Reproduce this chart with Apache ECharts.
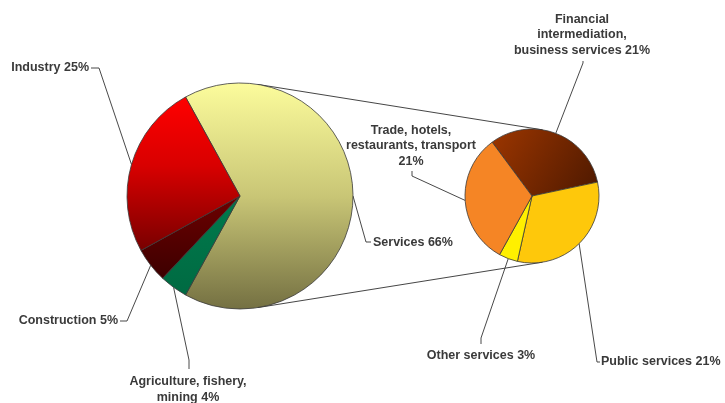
<!DOCTYPE html>
<html>
<head>
<meta charset="utf-8">
<script src="https://cdn.jsdelivr.net/npm/echarts@6/dist/echarts.min.js"></script>
<style>html,body{margin:0;padding:0;background:#fff}#c{width:725px;height:403px}</style>
</head>
<body>
<div id="c"></div>
<script>
// ---- data ----
var mainNames = ['Services', 'Agriculture, fishery,\nmining', 'Construction', 'Industry'];
var mainValues = [66, 4, 5, 25];
var subNames = ['Financial\nintermediation,\nbusiness services', 'Public services', 'Other services', 'Trade, hotels,\nrestaurants, transport'];
var subValues = [21, 21, 3, 21];
var subSep = [' ', ' ', ' ', '\n'];

// ---- layout ----
var C1 = [240, 196], R1 = 113;
var C2 = [532, 196], R2 = 67;
var textColor = '#3a3a3a';
var edge = '#3a3a3a';

var mainColors = [
  {type:'linear',x:0,y:0,x2:0,y2:1,colorStops:[{offset:0,color:'#fcfc9c'},{offset:0.5,color:'#c9c676'},{offset:1,color:'#747042'}]},
  {type:'linear',x:0,y:0,x2:0,y2:1,colorStops:[{offset:0,color:'#007a4c'},{offset:1,color:'#006a42'}]},
  {type:'linear',x:0,y:0,x2:0,y2:1,colorStops:[{offset:0,color:'#6e0000'},{offset:1,color:'#3c0000'}]},
  {type:'linear',x:0,y:0,x2:0,y2:1,colorStops:[{offset:0,color:'#ff0000'},{offset:0.45,color:'#d80000'},{offset:1,color:'#780000'}]}
];
var subColors = [
  {type:'linear',x:0,y:0,x2:1,y2:1,colorStops:[{offset:0,color:'#9c3600'},{offset:1,color:'#4c1800'}]},
  '#fec80b',
  '#fff000',
  '#f58525'
];

// label anchors: [x, y, align, verticalAlign, elbowX, elbowY, endX, endY]
var mainLabelPos = [
  [373, 243, 'left', 'middle', 366, 242, 371, 242],
  [188, 374, 'center', 'top', 189, 360, 189, 369],
  [118, 321, 'right', 'middle', 127, 321, 120, 321],
  [89, 68, 'right', 'middle', 99, 68, 91, 68]
];
var subLabelPos = [
  [582, 58, 'center', 'bottom', 583, 63, 583, 61],
  [601, 362, 'left', 'middle', 597, 362, 600, 362],
  [481, 348, 'center', 'top', 481, 338, 481, 344],
  [411, 169, 'center', 'bottom', 412, 176, 412, 171]
];

function mkLayout(pos) {
  return function (p) {
    var a = pos[p.dataIndex];
    var start = p.labelLinePoints ? p.labelLinePoints[0] : [a[4], a[5]];
    return {
      x: a[0], y: a[1], align: a[2], verticalAlign: a[3],
      labelLinePoints: [start, [a[4], a[5]], [a[6], a[7]]]
    };
  };
}

var labelStyle = {
  show: true, position: 'outside', color: textColor, fontSize: 12.5, fontWeight: 'bold',
  fontFamily: 'Liberation Sans, Arial, sans-serif', lineHeight: 15.5
};

// tangent connector lines (external tangents of the two circles)
var d = C2[0] - C1[0];
var phi = Math.acos((R1 - R2) / d);
function tp(c, r, s) { return [c[0] + r * Math.cos(phi), c[1] - s * r * Math.sin(phi)]; }
var top1 = tp(C1, R1, 1), top2 = tp(C2, R2, 1), bot1 = tp(C1, R1, -1), bot2 = tp(C2, R2, -1);

var chart = echarts.init(document.getElementById('c'), null, {renderer: 'canvas'});
chart.setOption({
  animation: false,
  backgroundColor: '#ffffff',
  graphic: [
    {type:'line', z: -1, shape:{x1:top1[0],y1:top1[1],x2:top2[0],y2:top2[1]}, style:{stroke:'#303030',lineWidth:0.9}},
    {type:'line', z: -1, shape:{x1:bot1[0],y1:bot1[1],x2:bot2[0],y2:bot2[1]}, style:{stroke:'#303030',lineWidth:0.9}}
  ],
  series: [
    {
      type: 'pie', center: C1, radius: R1, clockwise: true,
      startAngle: mainValues[0] * 3.6 / 2,
      avoidLabelOverlap: false, minAngle: 0,
      itemStyle: {borderColor: edge, borderWidth: 0.8},
      label: Object.assign({formatter: function (p) { return p.name + ' ' + p.value + '%'; }}, labelStyle),
      labelLine: {show: true, length: 10, length2: 5, lineStyle: {color: '#333', width: 0.9}},
      labelLayout: mkLayout(mainLabelPos),
      emphasis: {disabled: true},
      data: mainNames.map(function (n, i) { return {name: n, value: mainValues[i], itemStyle: {color: mainColors[i]}}; })
    },
    {
      type: 'pie', center: C2, radius: R2, clockwise: true,
      startAngle: 126.5,
      avoidLabelOverlap: false, minAngle: 0,
      itemStyle: {borderColor: edge, borderWidth: 0.8},
      label: Object.assign({formatter: function (p) { return p.name + subSep[p.dataIndex] + p.value + '%'; }}, labelStyle),
      labelLine: {show: true, length: 10, length2: 5, lineStyle: {color: '#333', width: 0.9}},
      labelLayout: mkLayout(subLabelPos),
      emphasis: {disabled: true},
      data: subNames.map(function (n, i) { return {name: n, value: subValues[i], itemStyle: {color: subColors[i]}}; })
    }
  ]
});
</script>
</body>
</html>
